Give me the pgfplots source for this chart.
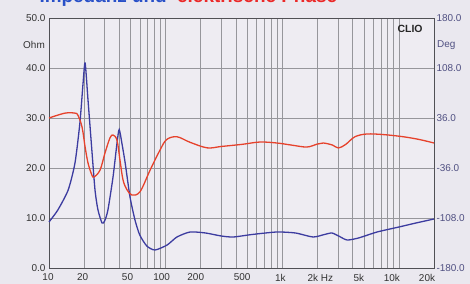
\documentclass[border=0pt]{standalone}
\usepackage{pgfplots}
\pgfplotsset{compat=1.18}
\usepackage{fontspec}
\setmainfont{Liberation Sans}
\definecolor{bgcol}{RGB}{234,232,239}
\definecolor{plotbg}{RGB}{238,236,242}
\definecolor{gridcol}{RGB}{150,150,155}
\definecolor{framecol}{RGB}{80,80,85}
\definecolor{impblue}{RGB}{60,60,160}
\definecolor{phred}{RGB}{230,66,44}
\definecolor{rlab}{RGB}{80,80,130}
\definecolor{titleblue}{RGB}{40,80,200}
\definecolor{titlered}{RGB}{235,40,40}
\begin{document}
\begin{tikzpicture}
\useasboundingbox (0,0) rectangle (470bp,284bp);
\fill[bgcol] (0,0) rectangle (470bp,284bp);
\node[anchor=base east, inner sep=0pt, text=titleblue, font=\fontsize{19}{20}\selectfont\bfseries] at (167bp,281.5bp) {Impedanz und};
\node[anchor=base west, inner sep=0pt, text=titlered, font=\fontsize{19}{20}\selectfont\bfseries] at (177bp,281.5bp) {elektrische Phase};
\begin{axis}[
  at={(49bp,16bp)}, anchor=south west, scale only axis,
  width=385bp, height=250bp,
  xmode=log, xmin=10, xmax=20000,
  major tick length=0pt, minor tick length=0pt,
  tick label style={font=\fontsize{10}{12}\selectfont},
  /pgf/number format/assume math mode=true,
  axis background/.style={fill=plotbg},
  ymin=0, ymax=50,
  ytick={0,10,20,30,40,50},
  yticklabel style={/pgf/number format/fixed, /pgf/number format/fixed zerofill, /pgf/number format/precision=1, text=black!80},
  xtick={10,20,50,100,200,500,1000,2000,5000,10000,20000},
  xticklabels={\hspace*{-2bp}10,\hspace*{-3bp}20,\hspace*{-6bp}50,\hspace*{-8bp}100,\hspace*{-10bp}200,\hspace*{-10bp}500,\hspace*{-4bp}1k,\hspace*{6bp}2k Hz,\hspace*{-10bp}5k,\hspace*{-14bp}10k,\hspace*{-14bp}20k},
  minor xtick={30,40,60,70,80,90,300,400,600,700,800,900,3000,4000,6000,7000,8000,9000},
  xticklabel style={text=black!80, yshift=-2.5bp},
  grid=both,
  major grid style={gridcol, line width=0.5bp},
  minor grid style={gridcol, line width=0.5bp},
  axis line style={framecol, line width=0.9bp},
  clip=false,
]
\addplot[impblue, line width=1.3bp, smooth, tension=0.4] coordinates {
(10,9.2) (11.9,11.6) (14.6,15.6) (16.7,21) (18.4,29) (19.6,37) (20.4,41) (21.6,33.6) (23.3,23.6) (24.8,15.6) (26.3,11.6) (28.5,9) (30,9.4) (32,11.6) (35.4,18.2) (38.3,25) (40,27.7) (42.5,24.5) (45,21) (49.5,14.2) (54.6,9.6) (60,6.6) (69,4.4) (81,3.6) (103,4.6) (125,6.2) (162,7.2) (220,7.0) (300,6.4) (380,6.2) (550,6.7) (900,7.2) (1300,7.0) (1836,6.2) (2300,6.7) (2670,7.0) (3100,6.3) (3600,5.6) (4500,6.0) (6500,7.2) (10000,8.2) (14000,9.0) (20000,9.8)
};
\node[anchor=east, inner sep=0pt, xshift=-4bp, text=black!80, font=\fontsize{10}{12}\selectfont] at (rel axis cs:0,0.892) {Ohm};
\node[font=\fontsize{10.5}{12}\selectfont\bfseries, text=black!85] at (rel axis cs:0.938,0.958) {CLIO};
\end{axis}
\begin{axis}[
  at={(49bp,16bp)}, anchor=south west, scale only axis,
  width=385bp, height=250bp,
  xmode=log, xmin=10, xmax=20000,
  major tick length=0pt, minor tick length=0pt,
  tick label style={font=\fontsize{10}{12}\selectfont},
  /pgf/number format/assume math mode=true,
  ymin=-180, ymax=180,
  axis x line=none,
  axis y line*=right,
  ytick={-180,-108,-36,36,108,180},
  yticklabel style={/pgf/number format/fixed, /pgf/number format/fixed zerofill, /pgf/number format/precision=1, text=rlab, xshift=-1bp},
  axis line style={framecol, line width=0.9bp},
  clip=false,
]
\addplot[phred, line width=1.3bp, smooth, tension=0.55] coordinates {
(10,36) (13.7,43) (16.7,43) (17.7,40) (19.2,23) (20.4,-5.8) (21.6,-28.8) (23.3,-46) (24.3,-49) (27.4,-39) (30.2,-14.4) (33.3,7.2) (35.4,11.5) (38.3,4) (40.6,-24.5) (43.1,-53) (46.5,-67) (51.5,-75) (60.4,-70) (73.6,-39) (89.6,-10) (102,5) (125,9) (162,1) (227,-7) (300,-5) (450,-2) (643,1.4) (900,0) (1200,-3) (1626,-5.8) (2000,-1.5) (2250,0) (2700,-3) (3030,-7.2) (3500,-2) (4200,9) (5330,13) (7500,12) (10900,9) (15000,5) (20000,0)
};
\node[anchor=west, inner sep=0pt, xshift=3bp, text=rlab, font=\fontsize{10}{12}\selectfont] at (rel axis cs:1,0.892) {Deg};
\end{axis}
\end{tikzpicture}
\end{document}
